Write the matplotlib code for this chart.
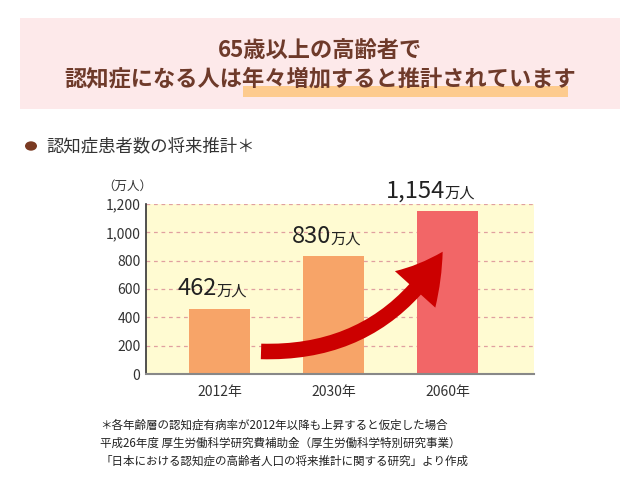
import matplotlib
matplotlib.use("Agg")
import matplotlib.pyplot as plt
from matplotlib.patches import Rectangle, FancyArrowPatch, Circle

plt.rcParams["font.family"] = "Noto Sans CJK JP"

categories = ["2012年", "2030年", "2060年"]
values = [462, 830, 1154]
value_labels = ["462", "830", "1,154"]
yticks = [0, 200, 400, 600, 800, 1000, 1200]
ytick_labels = ["0", "200", "400", "600", "800", "1,000", "1,200"]
bar_colors = ["#f7a468", "#f7a468", "#f26667"]

W, H = 640, 500
fig = plt.figure(figsize=(W/100, H/100), dpi=100)
fig.patch.set_facecolor("white")

def fx(x): return x / W
def fy(y): return 1 - y / H

# header box
fig.patches.append(Rectangle((fx(20), fy(109)), 600/W, 91/H, transform=fig.transFigure,
                             facecolor="#fde9ea", edgecolor="none", zorder=0))
fig.patches.append(Rectangle((fx(243), fy(97)), 325/W, 11/H, transform=fig.transFigure,
                             facecolor="#fdcb8e", edgecolor="none", zorder=1))
tc = "#6e3a2a"
fig.text(0.5, fy(50), "65歳以上の高齢者で", ha="center", va="center", fontsize=16,
         fontweight="bold", color=tc, zorder=3)
fig.text(0.5, fy(79), "認知症になる人は年々増加すると推計されています", ha="center", va="center",
         fontsize=16, fontweight="bold", color=tc, zorder=3)

# subtitle
fig.patches.append(Circle((fx(31), fy(146)), 6/W, transform=fig.transFigure,
                          facecolor="#7a3a22", edgecolor="none"))
fig.text(fx(46), fy(146), "認知症患者数の将来推計＊", ha="left", va="center", fontsize=12.5, color="#333333")

# axes
ax = fig.add_axes([fx(146), fy(374), (534-146)/W, (374-204)/H])
ax.set_facecolor("#fffbd2")
x = range(len(categories))
ax.bar(x, values, width=61/114, color=bar_colors, zorder=2)
ax.set_xlim(-73.5/114, (534-219.5)/114)
ax.set_ylim(0, 1200)
ax.set_yticks(yticks)
ax.set_yticklabels(ytick_labels, fontsize=10, color="#333333")
ax.set_xticks(list(x))
ax.set_xticklabels(categories, fontsize=10, color="#333333")
ax.tick_params(length=0, pad=4)
ax.tick_params(axis="x", pad=8)
for y in yticks[1:]:
    ax.axhline(y, color="#e0a0a0", linestyle=(0, (3, 3)), linewidth=0.9, zorder=1)
for s in ["top", "right"]:
    ax.spines[s].set_visible(False)
ax.spines["left"].set_color("#333333")
ax.spines["bottom"].set_color("#888888")
ax.spines["left"].set_linewidth(1.2)
ax.spines["bottom"].set_linewidth(1.5)

for xi, v, lab in zip(x, values, value_labels):
    ax.annotate(lab, (xi, v), xytext=(-2, 6), textcoords="offset points", ha="right",
                va="bottom", fontsize=17, color="#222222")
    ax.annotate("万人", (xi, v), xytext=(-2, 6.5), textcoords="offset points", ha="left",
                va="bottom", fontsize=11, color="#222222")

fig.text(fx(102), fy(186), "（万人）", ha="left", va="center", fontsize=9, color="#333333")

arrow = FancyArrowPatch((0.34, 160), (1.97, 880), transform=ax.transData,
                        connectionstyle="arc3,rad=0.3",
                        arrowstyle="simple,head_width=2.8,head_length=2.4,tail_width=0.8",
                        mutation_scale=14, facecolor="#cc0000", edgecolor="none", zorder=4)
ax.add_patch(arrow)

notes = ["＊各年齢層の認知症有病率が2012年以降も上昇すると仮定した場合",
         "平成26年度 厚生労働科学研究費補助金（厚生労働科学特別研究事業）",
         "「日本における認知症の高齢者人口の将来推計に関する研究」より作成"]
for i, n in enumerate(notes):
    fig.text(fx(100), fy(425 + 18*i), n, ha="left", va="center", fontsize=8.3, color="#222222")

fig.savefig("out.png", dpi=100, facecolor="white")
